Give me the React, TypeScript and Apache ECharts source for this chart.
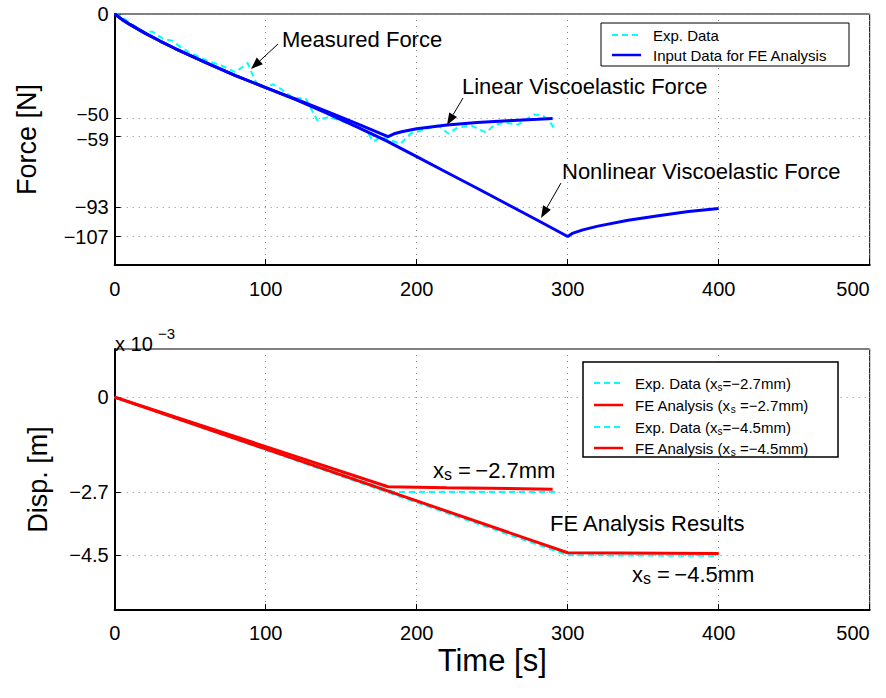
import React, { useEffect, useRef } from "react";
import * as echarts from "echarts";

// ---------- data ----------
const timeTicks = [0, 100, 200, 300, 400, 500];
const forceTicks = [0, -50, -59, -93, -107];
const dispTicks = [0, -2.7, -4.5]; // x 10^-3 m

// Top: experimental (measured) force [t, F]
const expForce: [number, number][] = [
  [0, 0], [4, -1], [11.7, -5.1], [19, -8.5], [25, -8.5], [32, -11.9], [38, -12.9],
  [43.5, -15.8], [50, -18.7], [57, -21], [63, -23], [70, -24.5], [80, -28], [88, -23.5],
  [92, -30.3], [95, -35], [100, -35.2], [105, -33.8], [110, -36], [118.5, -40.5],
  [126.4, -40.5], [134, -51], [141, -49.7], [147.6, -50.7], [158, -53.5], [167.5, -57],
  [171.5, -61.4], [176, -59], [182, -60.5], [189.3, -62.4], [196, -57.5], [214, -53.6],
  [221, -57.5], [227, -54.6], [236, -53.6], [246, -57], [251, -53.6], [257.6, -52.2],
  [267, -53.2], [277.5, -48.3], [283.5, -48.8], [287.5, -51.2], [292, -56],
];
// Top: input data, linear viscoelastic force
const linearForce: [number, number][] = [
  [0, 0], [5, -2.7], [10, -5], [20, -9.2], [30, -13], [40, -16.6], [60, -23.3],
  [80, -29.6], [100, -35.4], [120, -41], [140, -46.7], [160, -52.6], [181, -59],
  [185, -57.6], [190, -56.6], [200, -55.2], [220, -53.4], [240, -52.2], [260, -51.3],
  [280, -50.6], [290, -50.2],
];
// Top: input data, nonlinear viscoelastic force
const nonlinearForce: [number, number][] = [
  [0, 0], [5, -2.7], [10, -5], [20, -9.2], [30, -13], [40, -16.6], [60, -23.3],
  [80, -29.6], [100, -35.4], [120, -41.2], [140, -47.6], [160, -54.2], [180, -61],
  [200, -68.6], [220, -76.2], [240, -83.8], [260, -91.5], [280, -99.2], [300, -107],
  [303, -105.5], [310, -103.8], [320, -102], [340, -99.2], [360, -97], [380, -95], [400, -93.5],
];
// Bottom: displacement (x 10^-3 m)
const expDisp27: [number, number][] = [[0, 0], [185, -2.7], [292, -2.7]];
const feDisp27: [number, number][] = [[0, 0], [181, -2.55], [220, -2.58], [290, -2.62]];
const expDisp45: [number, number][] = [[0, 0], [300, -4.5], [400, -4.52]];
const feDisp45: [number, number][] = [[0, 0], [300, -4.43], [400, -4.45]];

// ---------- styles ----------
const FONT = "'Liberation Sans', Arial, Helvetica, sans-serif";
const BLUE = "#0000ff";
const CYAN = "#00ffff";
const RED = "#ff0000";
const GRID_LINE = { show: true, lineStyle: { color: "#8a8a8a", type: [1, 5] as any, width: 1 } };

const fmt = (v: number) => (v < 0 ? "\u2212" + String(Math.abs(v)) : String(v));

function arrow(x1: number, y1: number, x2: number, y2: number): any[] {
  const dx = x2 - x1, dy = y2 - y1;
  const len = Math.sqrt(dx * dx + dy * dy);
  const ux = dx / len, uy = dy / len;
  const hl = 12, hw = 4.5;
  const bx = x2 - ux * hl, by = y2 - uy * hl;
  return [
    { type: "line", shape: { x1, y1, x2: bx, y2: by }, style: { stroke: "#000", lineWidth: 1 }, z: 100 },
    {
      type: "polygon",
      shape: { points: [[x2, y2], [bx - uy * hw, by + ux * hw], [bx + uy * hw, by - ux * hw]] },
      style: { fill: "#000" },
      z: 100,
    },
  ];
}

function label(x: number, y: number, text: string, size = 22, rich?: any): any {
  return {
    type: "text",
    x,
    y,
    z: 100,
    style: { text, fontFamily: FONT, fontSize: size, fill: "#000", verticalAlign: "middle", align: "left", rich },
  };
}

const subRich = (main: number, sub: number, mainLH: number, subLH: number) => ({
  a: { fontFamily: FONT, fontSize: main, lineHeight: mainLH, fill: "#000" },
  b: { fontFamily: FONT, fontSize: sub, lineHeight: subLH, verticalAlign: "bottom", fill: "#000" },
});

function legendRow(x: number, y: number, color: string, dashed: boolean, text: string, rich?: any): any[] {
  return [
    {
      type: "line",
      z: 101,
      shape: { x1: x, y1: y, x2: x + 29, y2: y },
      style: { stroke: color, lineWidth: dashed ? 2 : 2.5, lineDash: dashed ? [6, 4] : null },
    },
    {
      type: "text",
      z: 101,
      x: x + 41,
      y,
      style: { text, fontFamily: FONT, fontSize: 15, fill: "#000", verticalAlign: "middle", rich },
    },
  ];
}

function axisCommon() {
  return {
    type: "value" as const,
    axisLine: { onZero: false, lineStyle: { color: "#000", width: 2 } },
    axisTick: { inside: true, length: 6, lineStyle: { color: "#000", width: 1 } },
    splitLine: GRID_LINE,
  };
}

export default function App() {
  const ref = useRef<HTMLDivElement>(null);
  useEffect(() => {
    if (!ref.current) return;
    const chart = echarts.init(ref.current, null, { renderer: "svg" });
    const legRich = subRich(15, 10, 18, 8);
    const annRich = subRich(22, 16, 24, 12);

    const xLabel = (margin: number) => ({
      color: "#000",
      fontSize: 20,
      fontFamily: FONT,
      margin,
      alignMaxLabel: "right",
      formatter: (v: number) => fmt(v),
      customValues: timeTicks,
    });
    // the two closely spaced force ticks (-50, -59) are nudged apart slightly
    const yLabel = (ticks: number[]) => ({
      color: "#000",
      fontSize: 20,
      fontFamily: FONT,
      margin: 6,
      formatter: (v: number) =>
        v === -50 ? "{u|" + fmt(v) + "}" : v === -59 ? "{d|" + fmt(v) + "}" : fmt(v),
      rich: {
        u: { fontSize: 19, lineHeight: 19, padding: [0, 0, 6, 0], fontFamily: FONT, color: "#000" },
        d: { fontSize: 19, lineHeight: 19, padding: [6, 0, 0, 0], fontFamily: FONT, color: "#000" },
      },
      customValues: ticks,
    });

    const option: any = {
      animation: false,
      backgroundColor: "#fff",
      textStyle: { fontFamily: FONT },
      grid: [
        { left: 114.7, top: 14, width: 755, height: 251, show: true, borderColor: "#000", borderWidth: 1, backgroundColor: "transparent" },
        { left: 114.7, top: 349, width: 755, height: 261, show: true, borderColor: "#000", borderWidth: 1, backgroundColor: "transparent" },
      ],
      xAxis: [
        { ...axisCommon(), gridIndex: 0, min: 0, max: 500, interval: 100, axisLabel: xLabel(14) },
        {
          ...axisCommon(),
          gridIndex: 1,
          min: 0,
          max: 500,
          interval: 100,
          axisLabel: xLabel(13),
          name: "Time [s]",
          nameLocation: "middle",
          nameGap: 35,
          nameTextStyle: { color: "#000", fontSize: 31, fontFamily: FONT },
        },
      ],
      yAxis: [
        {
          ...axisCommon(),
          gridIndex: 0,
          min: -120.7,
          max: 0,
          axisTick: { inside: true, length: 6, lineStyle: { color: "#000" }, customValues: forceTicks },
          axisLabel: yLabel(forceTicks),
          name: "Force [N]",
          nameLocation: "middle",
          nameGap: 74,
          nameTextStyle: { color: "#000", fontSize: 27, fontFamily: FONT },
        },
        {
          ...axisCommon(),
          gridIndex: 1,
          min: -6.06,
          max: 1.37,
          axisTick: { inside: true, length: 6, lineStyle: { color: "#000" }, customValues: dispTicks },
          axisLabel: yLabel(dispTicks),
          name: "Disp. [m]",
          nameLocation: "middle",
          nameGap: 63,
          nameTextStyle: { color: "#000", fontSize: 27, fontFamily: FONT },
        },
      ],
      series: [
        { name: "Exp. Data", type: "line", xAxisIndex: 0, yAxisIndex: 0, data: expForce, symbol: "none", lineStyle: { color: CYAN, width: 2, type: [6, 4] }, z: 3 },
        { name: "Linear", type: "line", xAxisIndex: 0, yAxisIndex: 0, data: linearForce, symbol: "none", lineStyle: { color: BLUE, width: 3 }, z: 4 },
        { name: "Nonlinear", type: "line", xAxisIndex: 0, yAxisIndex: 0, data: nonlinearForce, symbol: "none", lineStyle: { color: BLUE, width: 3 }, z: 4 },
        { name: "Exp 2.7", type: "line", xAxisIndex: 1, yAxisIndex: 1, data: expDisp27, symbol: "none", lineStyle: { color: CYAN, width: 2, type: [6, 4] }, z: 3 },
        { name: "FE 2.7", type: "line", xAxisIndex: 1, yAxisIndex: 1, data: feDisp27, symbol: "none", lineStyle: { color: RED, width: 3 }, z: 4 },
        { name: "Exp 4.5", type: "line", xAxisIndex: 1, yAxisIndex: 1, data: expDisp45, symbol: "none", lineStyle: { color: CYAN, width: 2, type: [6, 4] }, z: 3 },
        { name: "FE 4.5", type: "line", xAxisIndex: 1, yAxisIndex: 1, data: feDisp45, symbol: "none", lineStyle: { color: RED, width: 3 }, z: 4 },
      ],
      graphic: [
        // top legend
        { type: "rect", z: 100, shape: { x: 601, y: 23, width: 248, height: 43 }, style: { fill: "#fff", stroke: "#000", lineWidth: 1 } },
        ...legendRow(612, 35, CYAN, true, "Exp. Data"),
        ...legendRow(612, 55, BLUE, false, "Input Data for FE Analysis"),
        // bottom legend
        { type: "rect", z: 100, shape: { x: 583, y: 362, width: 255, height: 95 }, style: { fill: "#fff", stroke: "#000", lineWidth: 1.5 } },
        ...legendRow(594, 383, CYAN, true, "{a|Exp. Data (x}{b|s}{a|=\u22122.7mm)}", legRich),
        ...legendRow(594, 405, RED, false, "{a|FE Analysis (x}{b|s}{a| =\u22122.7mm)}", legRich),
        ...legendRow(594, 427, CYAN, true, "{a|Exp. Data (x}{b|s}{a|=\u22124.5mm)}", legRich),
        ...legendRow(594, 448, RED, false, "{a|FE Analysis (x}{b|s}{a| =\u22124.5mm)}", legRich),
        // top annotations
        label(282, 39, "Measured Force"),
        ...arrow(278, 44, 251, 69),
        label(462, 86, "Linear Viscoelastic Force"),
        ...arrow(463, 98, 447, 125),
        label(562, 171, "Nonlinear Viscoelastic Force"),
        ...arrow(561, 183, 541, 218),
        // bottom annotations
        label(433, 470, "{a|x}{b|s}{a| =\u2009\u22122.7mm}", 22, annRich),
        label(550, 523, "FE Analysis Results"),
        label(632, 574, "{a|x}{b|s}{a| =\u2009\u22124.5mm}", 22, annRich),
        // exponent
        label(115, 344, "x 10", 20),
        label(158, 333, "\u22123", 15),
      ],
    };
    chart.setOption(option);
    return () => chart.dispose();
  }, []);
  return <div ref={ref} style={{ position: "fixed", left: 0, top: 0, width: 886, height: 698, background: "#fff" }} />;
}
